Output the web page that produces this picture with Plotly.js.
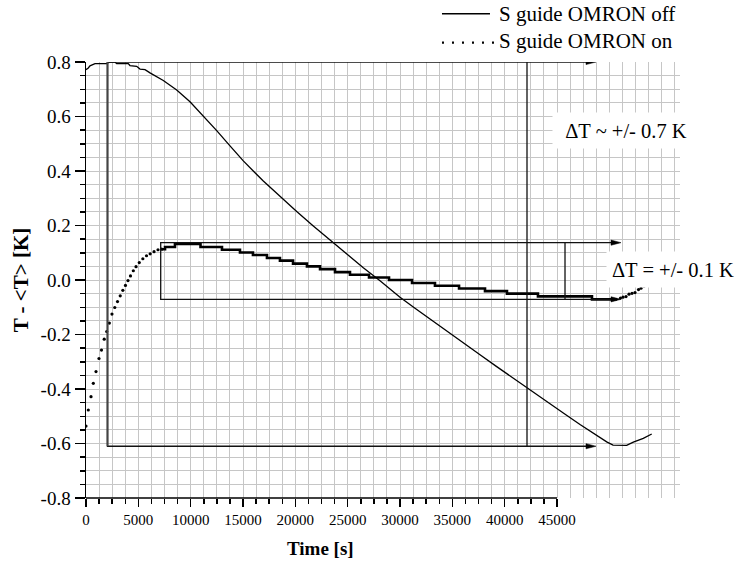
<!DOCTYPE html>
<html><head><meta charset="utf-8">
<script src="https://cdn.plot.ly/plotly-3.0.1.min.js"></script>
<style>html,body{margin:0;padding:0;background:#fff}#chart{width:736px;height:572px}</style>
</head><body><div id="chart"></div>
<script>
// ---- S guide OMRON off (solid line) ----
const offTime = [0,220,380,860,1980,2230,2770,2930,4040,4200,4840,5160,5640,6115,7385,8666,9936,11207,12487,13758,15028,16939,18535,20130,21716,23312,24907,26493,28089,29999,31432,32866,34461,36048,37643,39239,40672,42105,43853,45602,47197,48467,49108,49747,50349,51657,52288,53244,54047];
const offDT = [0.772,0.778,0.786,0.794,0.794,0.80,0.80,0.794,0.794,0.787,0.784,0.774,0.772,0.76,0.732,0.697,0.654,0.603,0.548,0.492,0.437,0.363,0.306,0.251,0.198,0.146,0.094,0.045,-0.003,-0.063,-0.104,-0.144,-0.187,-0.231,-0.274,-0.318,-0.357,-0.396,-0.442,-0.488,-0.530,-0.562,-0.580,-0.594,-0.606,-0.607,-0.595,-0.581,-0.565];

// ---- S guide OMRON on (dotted) : separate samples where the curve moves fast ----
const onDotTime = [0,220,480,700,955,1240,1480,1740,1980,2230,2480,2750,3010,3270,3520,3770,4010,4250,4520,4780,5090,5430,5780,6130,6500,6880,7230,51065,51305,51592,51878,52165,52451,52786,53025,53311,53598];
const onDotDT = [-0.536,-0.477,-0.428,-0.379,-0.336,-0.288,-0.257,-0.217,-0.189,-0.158,-0.125,-0.101,-0.079,-0.058,-0.038,-0.02,-0.002,0.015,0.034,0.049,0.064,0.078,0.089,0.096,0.104,0.111,0.113,-0.066,-0.063,-0.061,-0.052,-0.049,-0.046,-0.035,-0.030,-0.022,-0.016];
// dense quantised part (samples merge into a stair line)
const onStepTime = [7230,7550,8500,10940,12990,14710,15950,17290,18530,19780,21110,22360,23790,25220,27040,28950,31150,33340,35640,38120,40220,43180,48340,50730];
const onStepDT = [0.113,0.121,0.132,0.121,0.111,0.101,0.092,0.081,0.071,0.060,0.050,0.040,0.029,0.019,0.009,0.00,-0.011,-0.021,-0.031,-0.041,-0.050,-0.060,-0.071,-0.071];

// ---- bands (ΔT ranges) ----
const bandNames = ['\u0394T ~ +/- 0.7 K', '\u0394T = +/- 0.1 K'];
const bandStart = [2054, 7137];
const bandEnd = [42133, 45764];
const bandLow = [-0.61, -0.071];
const bandHigh = [0.80, 0.137];
const bandArrowTip = [48725, 51114];

// ---- ticks ----
const xTickVals = [0,5000,10000,15000,20000,25000,30000,35000,40000,45000];
const xTickText = ['0','5000','10000','15000','20000','25000','30000','35000','40000','45000'];
const yTickVals = [-0.8,-0.6,-0.4,-0.2,0,0.2,0.4,0.6,0.8];
const yTickText = ['-0.8','-0.6','-0.4','-0.2','0.0','0.2','0.4','0.6','0.8'];

const serif = 'Liberation Serif, Times New Roman, serif';
const xMax = 56750, plotW = 594, plotH = 436, yMin = -0.8, yMax = 0.8;
const xpp = xMax / plotW, ypp = (yMax - yMin) / plotH;

const minorX = [];
for (let v = 1250; v < 45000; v += 1250) minorX.push(v);

const traces = [
  {x: offTime, y: offDT, mode: 'lines', name: 'S guide OMRON off',
   line: {color: '#000', width: 1.3}},
  {x: onStepTime, y: onStepDT, mode: 'lines', name: 'S guide OMRON on', legendgroup: 'on',
   line: {color: '#000', width: 2.6, shape: 'hv'}},
  {x: onDotTime, y: onDotDT, mode: 'markers', name: 'S guide OMRON on', legendgroup: 'on',
   marker: {color: '#000', size: 3.2, line: {width: 0}}},
  {x: [], y: [], xaxis: 'x2', yaxis: 'y', mode: 'markers', hoverinfo: 'skip', showlegend: false}
];

const shapes = [];
const annotations = [];
for (let i = 0; i < bandNames.length; i++) {
  shapes.push({type: 'rect', xref: 'x', yref: 'y', x0: bandStart[i], x1: bandEnd[i], y0: bandLow[i], y1: bandHigh[i],
    line: {color: '#111', width: 1.3}});
  [bandLow[i], bandHigh[i]].forEach(yv => {
    const base = bandArrowTip[i] - 10 * xpp;
    shapes.push({type: 'line', xref: 'x', yref: 'y', x0: bandEnd[i], x1: base, y0: yv, y1: yv,
      line: {color: '#111', width: 1.3}});
    shapes.push({type: 'path', xref: 'x', yref: 'y',
      path: 'M' + bandArrowTip[i] + ',' + yv + ' L' + base + ',' + (yv + 2.6 * ypp) + ' L' + base + ',' + (yv - 2.6 * ypp) + ' Z',
      fillcolor: '#000', line: {color: '#000', width: 0.5}});
  });
}
// heavier left edge of the wide band
shapes.push({type: 'line', xref: 'x', yref: 'y', x0: bandStart[0], x1: bandStart[0], y0: bandLow[0], y1: bandHigh[0],
  line: {color: '#444', width: 2}});
// x axis line only along the labelled part
shapes.push({type: 'line', xref: 'x', yref: 'paper', x0: 0, x1: 45000, y0: 0, y1: 0, line: {color: '#000', width: 1.5}});
// legend samples
shapes.push({type: 'line', xref: 'paper', yref: 'paper', x0: 0.5993, x1: 0.6801, y0: 1.1107, y1: 1.1107, line: {color: '#000', width: 1.3}});
shapes.push({type: 'line', xref: 'paper', yref: 'paper', x0: 0.5993, x1: 0.6877, y0: 1.0443, y1: 1.0443, line: {color: '#000', width: 2.2, dash: '2px,8px'}});

annotations.push({text: bandNames[0], xref: 'x', yref: 'y', x: 51590, y: 0.548, showarrow: false,
  font: {family: serif, size: 20.5, color: '#000'}, bgcolor: '#fff', borderpad: 5, width: 136, height: 25});
annotations.push({text: bandNames[1], xref: 'x', yref: 'y', x: 56080, y: 0.038, showarrow: false,
  font: {family: serif, size: 20.5, color: '#000'}, bgcolor: '#fff', borderpad: 2, width: 128, height: 31});
annotations.push({text: 'S guide OMRON off', xref: 'paper', yref: 'paper', x: 0.6919, y: 1.110, xanchor: 'left', yanchor: 'middle',
  showarrow: false, font: {family: serif, size: 21, color: '#000'}});
annotations.push({text: 'S guide OMRON on', xref: 'paper', yref: 'paper', x: 0.6919, y: 1.048, xanchor: 'left', yanchor: 'middle',
  showarrow: false, font: {family: serif, size: 21, color: '#000'}});
annotations.push({text: 'Time [s]', xref: 'paper', yref: 'paper', x: 0.3956, y: -0.1147, xanchor: 'center', yanchor: 'middle',
  showarrow: false, font: {family: serif, size: 19, color: '#000', weight: 'bold'}});

const grid = '#c6c6c6';
const layout = {
  width: 736, height: 572,
  margin: {l: 86, r: 56, t: 62, b: 74, pad: 0},
  paper_bgcolor: '#fff', plot_bgcolor: '#fff',
  showlegend: false,
  font: {family: serif, color: '#000'},
  xaxis: {range: [0, xMax], tickmode: 'array', tickvals: xTickVals, ticktext: xTickText,
    ticks: 'outside', ticklen: 8, tickwidth: 1.5, tickcolor: '#000', showgrid: false, zeroline: false, showline: false,
    tickfont: {family: serif, size: 15, color: '#000'},
    minor: {tickmode: 'array', tickvals: minorX, ticks: 'outside', ticklen: 5, tickwidth: 1.5, tickcolor: '#000', showgrid: false}},
  xaxis2: {overlaying: 'x', range: [0, xMax], tickmode: 'linear', tick0: 0, dtick: 1250, showgrid: true, gridcolor: grid, gridwidth: 1,
    showticklabels: false, ticks: '', zeroline: false, showline: false, side: 'bottom'},
  yaxis: {range: [yMin, yMax], tickmode: 'array', tickvals: yTickVals, ticktext: yTickText,
    ticks: 'outside', ticklen: 10, tickwidth: 1.5, tickcolor: '#000', showgrid: true, gridcolor: grid, gridwidth: 1,
    zeroline: false, showline: true, linecolor: '#000', linewidth: 1.5,
    tickfont: {family: serif, size: 19, color: '#000'},
    minor: {dtick: 0.05, ticks: 'outside', ticklen: 5, tickwidth: 1.5, tickcolor: '#000', showgrid: true, gridcolor: grid, gridwidth: 1},
    title: {text: 'T - &lt;T&gt; [K]', font: {family: serif, size: 21, color: '#000', weight: 'bold'}, standoff: 6}},
  shapes: shapes,
  annotations: annotations
};

Plotly.newPlot('chart', traces, layout, {displayModeBar: false, staticPlot: true});
</script>
</body></html>
